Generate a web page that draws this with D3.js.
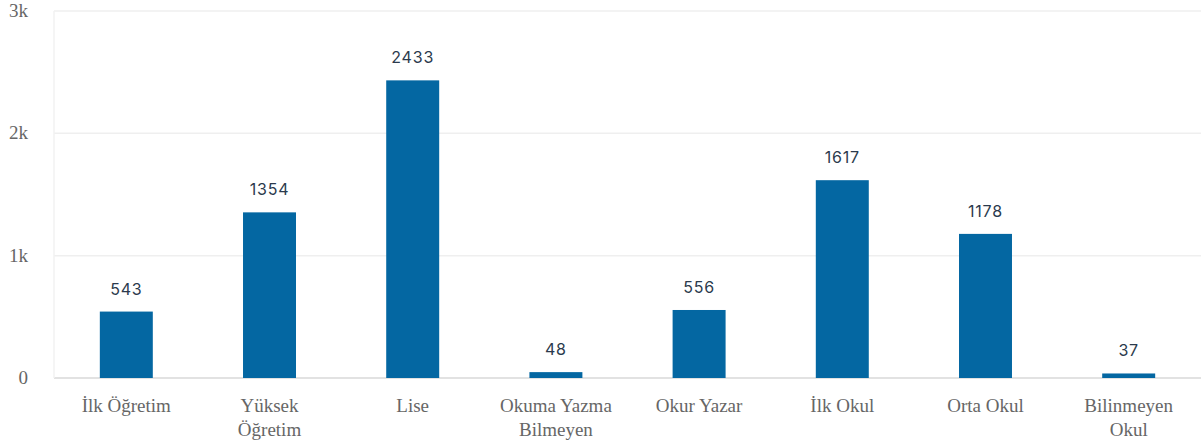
<!DOCTYPE html>
<html>
<head>
  <meta charset="utf-8">
  <title>Eğitim Durumu</title>
  <script src="https://d3js.org/d3.v7.min.js"></script>
  <style>
    body { margin: 0; background: #fff; }
    .serif { font-family: "Liberation Serif", "DejaVu Serif", serif; }
  </style>
</head>
<body>
<svg width="1201" height="448"></svg>
<script>
var categories = [["İlk Öğretim"], ["Yüksek", "Öğretim"], ["Lise"], ["Okuma Yazma", "Bilmeyen"],
  ["Okur Yazar"], ["İlk Okul"], ["Orta Okul"], ["Bilinmeyen", "Okul"]]
var values = [543, 1354, 2433, 48, 556, 1617, 1178, 37]
var yTicks = [0, 1000, 2000, 3000]
var yTickLabels = ["0", "1k", "2k", "3k"]

var svg = d3.select('svg')
// note: "top" is a reserved window property, so use plot* names
var plotLeft = 54, plotRight = 1201, plotTop = 11, plotBottom = 378

var x = d3.scaleBand()
  .domain(d3.range(values.length))
  .range([plotLeft, plotRight])
  .paddingInner(0.63)
  .paddingOuter(0.32)

var y = d3.scaleLinear().domain([0, 3000]).range([plotBottom, plotTop])

// grid lines
svg.append('g')
  .selectAll('line')
  .data(yTicks)
  .enter().append('line')
    .attr('x1', plotLeft).attr('x2', plotRight)
    .attr('y1', function (d) { return y(d) }).attr('y2', function (d) { return y(d) })
    .attr('stroke', function (d) { return d === 0 ? '#e2e2e2' : '#efefef' })
    .attr('stroke-width', function (d) { return d === 0 ? 2 : 1.5 })

svg.append('line')
  .attr('x1', plotLeft).attr('x2', plotLeft)
  .attr('y1', plotTop).attr('y2', plotBottom)
  .attr('stroke', '#f2f2f2').attr('stroke-width', 1.5)

// y labels
svg.append('g')
  .selectAll('text')
  .data(yTicks)
  .enter().append('text')
    .attr('class', 'serif')
    .attr('x', 28)
    .attr('y', function (d) { return y(d) + 6 })
    .attr('text-anchor', 'end')
    .attr('font-size', 19)
    .attr('fill', '#666')
    .text(function (d, i) { return yTickLabels[i] })

// bars
svg.append('g')
  .selectAll('rect')
  .data(values)
  .enter().append('rect')
    .attr('x', function (d, i) { return x(i) })
    .attr('width', x.bandwidth())
    .attr('y', function (d) { return y(d) })
    .attr('height', function (d) { return plotBottom - y(d) })
    .attr('fill', '#0467a2')

// value labels
svg.append('g')
  .selectAll('text')
  .data(values)
  .enter().append('text')
    .attr('x', function (d, i) { return x(i) + x.bandwidth() / 2 })
    .attr('y', function (d) { return y(d) - 17 })
    .attr('text-anchor', 'middle')
    .attr('font-family', 'Inter, sans-serif')
    .attr('font-size', 16)
    .attr('letter-spacing', 0.8)
    .attr('fill', '#2b3a4d')
    .text(function (d) { return d })

// category labels
var cat = svg.append('g')
  .selectAll('text')
  .data(categories)
  .enter().append('text')
    .attr('class', 'serif')
    .attr('x', function (d, i) { return x(i) + x.bandwidth() / 2 })
    .attr('y', 412)
    .attr('text-anchor', 'middle')
    .attr('font-size', 19)
    .attr('fill', '#666')

cat.selectAll('tspan')
  .data(function (d) { return d })
  .enter().append('tspan')
    .attr('x', function () { return d3.select(this.parentNode).attr('x') })
    .attr('dy', function (d, i) { return i === 0 ? 0 : 24 })
    .text(function (d) { return d })
</script>
</body>
</html>
